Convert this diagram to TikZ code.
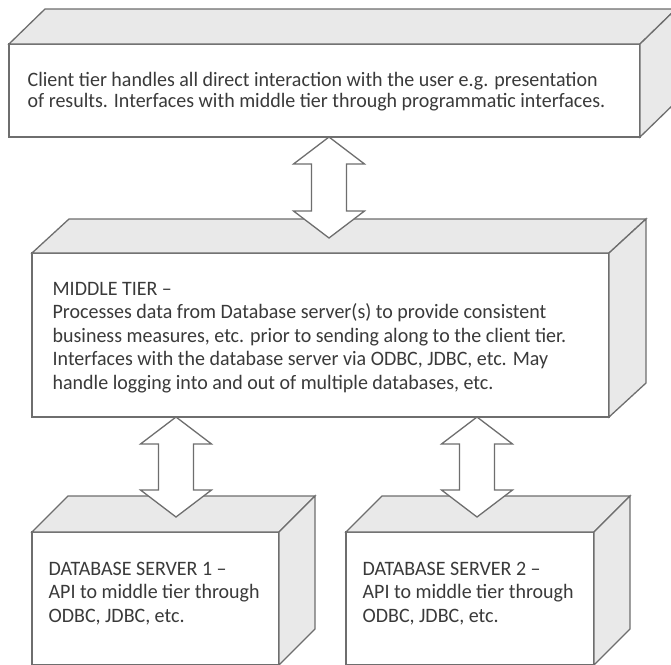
\documentclass[tikz,border=0pt]{standalone}
\usepackage{fontspec}
\setmainfont{Carlito}[FakeStretch=0.975]
\usetikzlibrary{calc,positioning}
\definecolor{edgegray}{HTML}{6E6E6E}
\definecolor{facegray}{HTML}{E9E9E9}
\definecolor{inkgray}{HTML}{3A3A3A}

% top and side faces of a slab, from its front node
\newcommand{\slab}[3]{%
\filldraw[face] (#1.north west) -- ++(#2,#3) -- ($(#1.north east)+(#2,#3)$) -- (#1.north east) -- cycle;
\filldraw[face] (#1.north east) -- ++(#2,#3) -- ($(#1.south east)+(#2,#3)$) -- (#1.south east) -- cycle;}

% two headed block arrow between two tips
\newcommand{\blockarrow}[2]{%
\filldraw[arrowbox] (#1) -- ++(35.5,27) -- ++(-18,0) -- ($(#2)+(17.5,-27)$) -- ++(18,0) -- (#2)
 -- ++(-35.5,-27) -- ++(18,0) -- ($(#1)+(-17.5,27)$) -- ++(-18,0) -- cycle;}

\begin{document}
\begin{tikzpicture}[x=1pt, y=-1pt, line width=1.3pt,
 front/.style={draw=edgegray, fill=white, inner sep=0pt, outer sep=0pt, anchor=north west},
 face/.style={draw=edgegray, fill=facegray},
 arrowbox/.style={draw=edgegray, fill=white},
 txt/.style={text=inkgray, inner sep=0pt, anchor=base west, align=left, font=\fontsize{20.5}{20.5}\selectfont},
 dbtxt/.style={txt, font=\fontsize{20.5}{23.5}\selectfont}]
\useasboundingbox (0,0) rectangle (671,664);
\clip (0,0) rectangle (671,664);
\fill[white] (0,0) rectangle (671,664);

\node[front, minimum width=631pt, minimum height=93pt] (client) at (9,44) {};
\node[front, minimum width=577pt, minimum height=164pt] (middle) at (32,253) {};
\node[front, minimum width=247pt, minimum height=133pt] (db1) at (32,532) {};
\node[front, minimum width=248pt, minimum height=133pt] (db2) at (346,532) {};
\slab{client}{36}{-35}
\slab{middle}{37}{-34}
\slab{db1}{36}{-36}
\slab{db2}{36}{-36}

% anchors sit on the last line
\node[txt] (clienttext) at (27,107) {Client tier handles all direct interaction with the user e.g. presentation\\of results. Interfaces with middle tier through programmatic interfaces.};
\node[dbtxt] (middletext) at (52,389) {MIDDLE TIER --\\Processes data from Database server(s) to provide consistent\\business measures, etc. prior to sending along to the client tier.\\Interfaces with the database server via ODBC, JDBC, etc. May\\handle logging into and out of multiple databases, etc.};
\node[dbtxt] (db1text) at (48,622) {DATABASE SERVER 1 --\\API to middle tier through\\ODBC, JDBC, etc.};
\node[dbtxt] (db2text) at (362,622) {DATABASE SERVER 2 --\\API to middle tier through\\ODBC, JDBC, etc.};

\coordinate (a1t) at ($(client.south west)+(320,0)$);
\coordinate (a1b) at ($(middle.north west)+(297,-15)$);
\coordinate (a2t) at ($(middle.south west)+(144,0)$);
\coordinate (a2b) at ($(db1.north west)+(144,-15)$);
\coordinate (a3t) at ($(middle.south west)+(445,0)$);
\coordinate (a3b) at ($(db2.north west)+(131,-15)$);
\blockarrow{a1t}{a1b}
\blockarrow{a2t}{a2b}
\blockarrow{a3t}{a3b}
\end{tikzpicture}
\end{document}
